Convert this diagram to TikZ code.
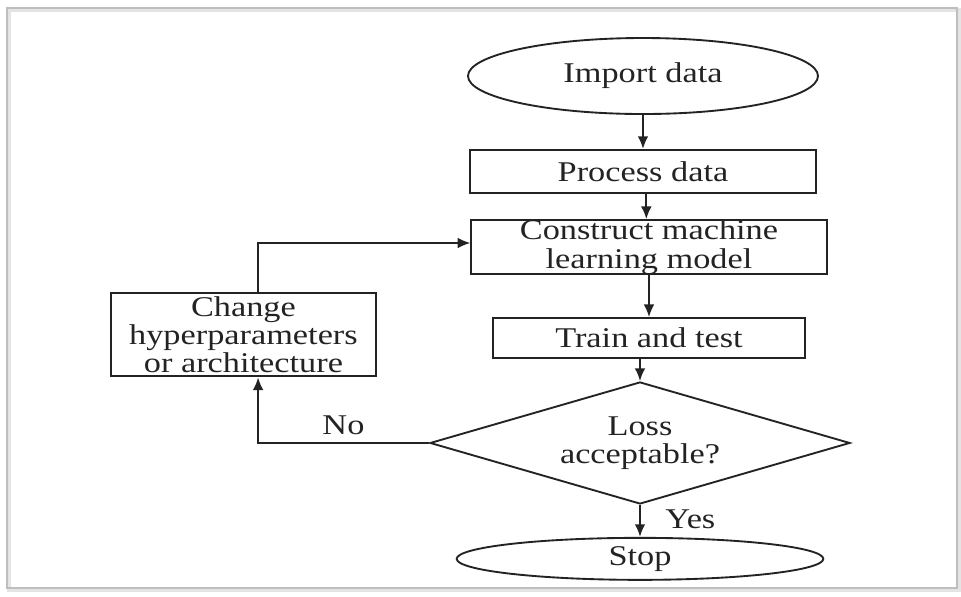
\documentclass[tikz,border=0pt]{standalone}
\usepackage{fontspec}
\setmainfont{Liberation Serif}[FakeStretch=1.2]
\usetikzlibrary{positioning,arrows.meta,shapes.geometric}
\definecolor{FrameGray}{RGB}{190,190,190}
\definecolor{ShadeGray}{RGB}{228,228,228}
\definecolor{InkGray}{RGB}{35,35,35}
\tikzset{
  flow/.style={-{Latex[length=1.9mm,width=1.6mm]},line width=0.8pt,draw=InkGray},
  box/.style={draw=InkGray,line width=0.8pt,rectangle,align=center,inner sep=0pt,
    text=InkGray,font=\fontsize{12.2}{12}\selectfont},
  termbox/.style={box,ellipse},
  decision/.style={box,diamond,aspect=3.4},
  tag/.style={text=InkGray,font=\fontsize{12.2}{12}\selectfont}
}

\begin{document}
\begin{tikzpicture}[x=0.015cm,y=-0.015cm]
  \useasboundingbox (0,0) rectangle (961,596);
  % frame with soft shadow
  \draw[ShadeGray,line width=2pt] (9,10) rectangle (959,590);
  \draw[FrameGray,line width=0.8pt] (7,8) rectangle (957,588);
  % main column
  \node[termbox,minimum width=5.25cm,minimum height=1.14cm] (import) at (643,76) {Import data};
  \node[box,below=0.51cm of import,minimum width=5.2cm,minimum height=0.65cm] (process) {Process data};
  \node[box,below=0.375cm of process,xshift=0.09cm,minimum width=5.33cm,minimum height=0.8cm] (construct) {Construct machine\\learning model};
  \node[box,below=0.63cm of construct,minimum width=4.68cm,minimum height=0.6cm] (train) {Train and test};
  \node[decision,below=0.33cm of train,xshift=-0.135cm,minimum width=6.3cm,minimum height=1.83cm] (loss) {Loss\\acceptable?};
  \node[termbox,below=0.48cm of loss,minimum width=5.5cm,minimum height=0.63cm] (stop) {Stop};
  \node[box,left=1.725cm of train,yshift=0.05cm,minimum width=3.98cm,minimum height=1.25cm] (change) {Change\\hyperparameters\\or architecture};
  % loop corners
  \coordinate (lowturn) at ([xshift=0.22cm]change.south |- loss.west);
  \coordinate (topturn) at ([xshift=0.22cm]change.north |- 0,243);
  % connectors
  \draw[flow] (import) -- (process);
  \draw[flow] ([xshift=0.05cm]process.south) -- ([xshift=0.05cm]process.south |- construct.north);
  \draw[flow] (construct) -- (construct |- train.north);
  \draw[flow] (train.south -| loss) -- (loss);
  \draw[flow] (loss) -- node[tag,right=0.25cm,pos=0.45] (yes) {Yes} (stop);
  \draw[flow] (loss.west) -- (lowturn) -- ([xshift=0.22cm]change.south);
  \draw[flow] ([xshift=0.22cm]change.north) -- (topturn) -- (topturn -| construct.west);
  \node[tag,above=0pt of lowturn,xshift=1.28cm] (no) {No};
\end{tikzpicture}
\end{document}
